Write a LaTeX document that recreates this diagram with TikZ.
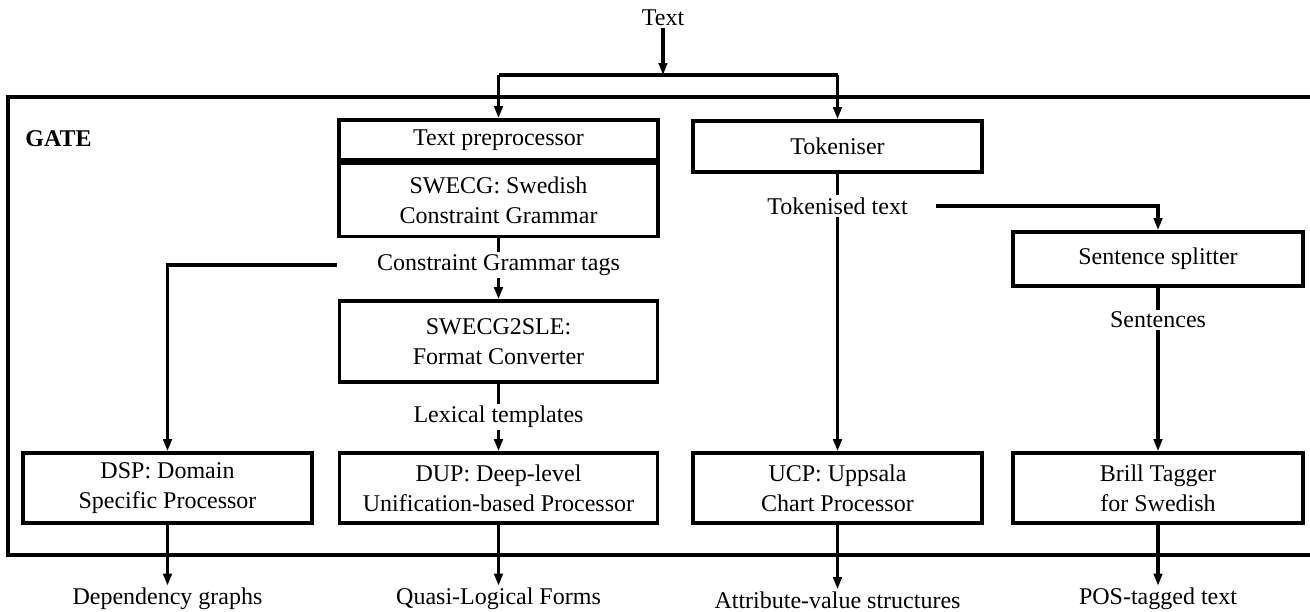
\documentclass[tikz,border=0pt]{standalone}
\usepackage{fontspec}
\setmainfont{Liberation Serif}
\usetikzlibrary{arrows.meta}
\tikzset{
  boxline/.style={line width=1.8pt},
  pbox/.style={draw, boxline, align=center, inner sep=0pt},
  lbl/.style={inner sep=1pt, align=center},
  conn/.style={line width=1.6pt, -{Triangle[length=6pt,width=4.2pt]}},
  plain/.style={line width=1.6pt},
}
\begin{document}
\begin{tikzpicture}[x=0.5pt,y=-0.5pt,font=\fontsize{12}{15}\selectfont]
\useasboundingbox (0,0) rectangle (1310,611);

% GATE frame
\draw[line width=2.2pt] (1316,97) -- (8,97) -- (8,555) -- (1316,555);
\node[anchor=west, inner sep=0pt, font=\fontsize{12}{15}\selectfont\bfseries] (gate) at (25,139) {GATE};

% input
\node[lbl] (txt) at (663,18) {Text};
\coordinate (fork) at (663,75);

% top row
\node[pbox, minimum width=159.5pt, minimum height=20pt] (tp) at (498.5,140) {Text preprocessor};
\node[pbox, minimum width=159.5pt, minimum height=36.5pt, anchor=north] (swecg) at (tp.south) {SWECG: Swedish\\Constraint Grammar};
\node[pbox, minimum width=144.5pt, minimum height=25.5pt] (tok) at (837.5,146.5) {Tokeniser};

\coordinate (forkL) at (tp.north |- fork);
\coordinate (forkR) at (tok.north |- fork);

% labels in the middle
\node[lbl] (tokt) at (837.5,206) {Tokenised text};
\coordinate (toktout) at ([xshift=13pt]tokt.east);
\node[lbl] (cgt) at (498.5,265) {Constraint Grammar tags};
\node[pbox, minimum width=145pt, minimum height=27pt] (ss) at (1158,259) {Sentence splitter};
\node[lbl] (sent) at (1158,320) {Sentences};
\node[pbox, minimum width=159pt, minimum height=40.5pt] (conv) at (498.5,341.5) {SWECG2SLE:\\Format Converter};
\node[lbl] (lex) at (498.5,417) {Lexical templates};

% bottom row
\node[pbox, minimum width=144.5pt, minimum height=35pt] (dsp) at (167.5,488) {DSP: Domain\\Specific Processor};
\node[pbox, minimum width=159pt, minimum height=35pt] (dup) at (498.5,488) {DUP: Deep-level\\Unification-based Processor};
\node[pbox, minimum width=144.5pt, minimum height=35pt] (ucp) at (837.5,488) {UCP: Uppsala\\Chart Processor};
\node[pbox, minimum width=145pt, minimum height=35pt] (brill) at (1158,488) {Brill Tagger\\for Swedish};

% outputs
\node[lbl] (dg) at (167.5,599) {Dependency graphs};
\node[lbl] (qlf) at (498.5,599) {Quasi-Logical Forms};
\node[lbl] (avs) at (837.5,600) {Attribute-value structures};
\node[lbl] (pos) at (1158,599) {POS-tagged text};

% connectors
\draw[conn] (txt) -- (fork);
\draw[plain] (forkL) -- (forkR);
\draw[conn] (forkL) -- (tp);
\draw[conn] (forkR) -- (tok);

\draw[plain] (swecg) -- (cgt);
\draw[conn] (cgt) -- (conv);
\draw[conn] (cgt -| swecg.west) -| (dsp);
\draw[plain] (conv) -- (lex);
\draw[conn] (lex) -- (dup);

\draw[plain] (tok) -- (tokt);
\draw[conn] (tokt) -- (ucp);
\draw[conn] (toktout) -| (ss);
\draw[plain] (ss) -- (sent);
\draw[conn] (sent) -- (brill);

\draw[conn] (dsp) -- (dg);
\draw[conn] (dup) -- (qlf);
\draw[conn] (ucp) -- (avs);
\draw[conn] (brill) -- (pos);
\end{tikzpicture}
\end{document}
